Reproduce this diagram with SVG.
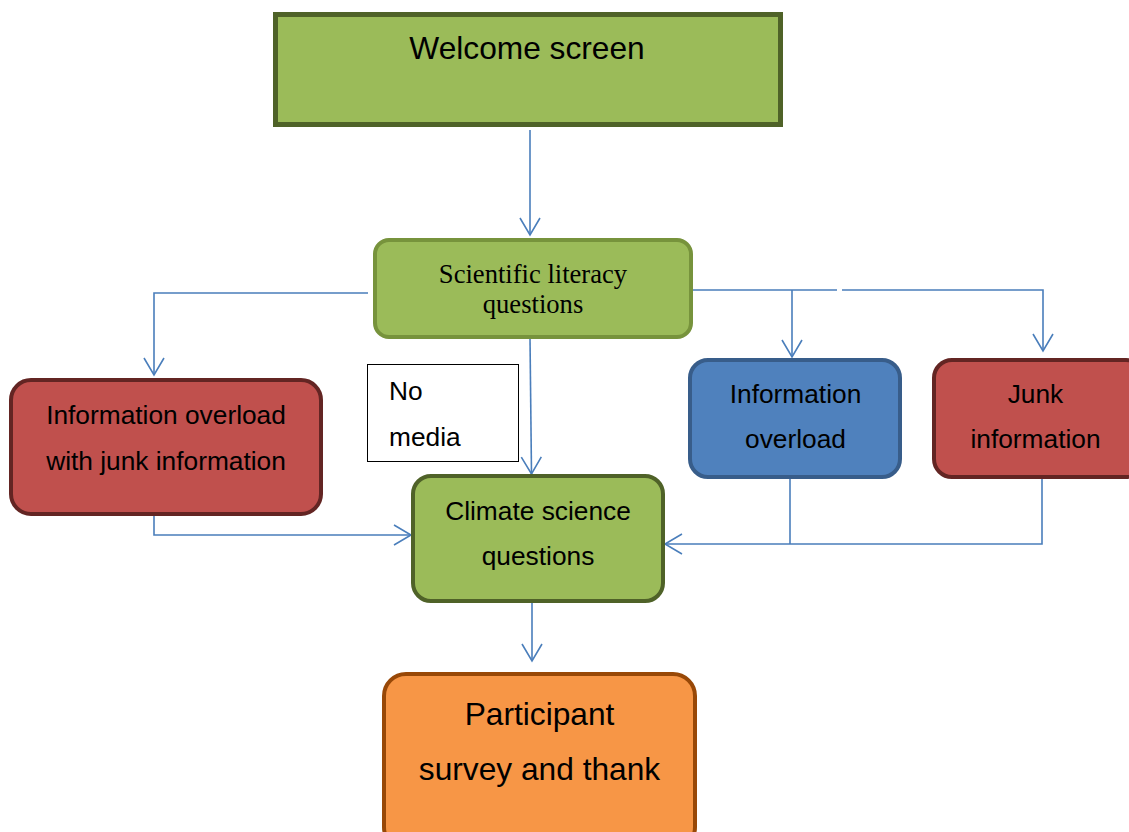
<svg xmlns="http://www.w3.org/2000/svg" width="1129" height="832" viewBox="0 0 1129 832">
  <style>
    .sans { font-family: "Liberation Sans", Arial, sans-serif; fill: #000; text-anchor: middle; font-size: 26.3px; }
    .big { font-size: 31.7px; }
    .left { text-anchor: start; }
    .serif { font-family: "Liberation Serif", "Times New Roman", serif; fill: #000; text-anchor: middle; font-size: 26.6px; }
    .green { fill: #9bbb59; stroke: #4f6228; stroke-width: 4; }
    .green-light { fill: #9bbb59; stroke: #77933c; stroke-width: 4; }
    .red { fill: #c0504d; stroke: #632523; stroke-width: 4; }
    .blue { fill: #4f81bd; stroke: #385d8a; stroke-width: 4; }
    .orange { fill: #f79646; stroke: #984807; stroke-width: 4; }
    .link { fill: none; stroke: #4a7ebb; stroke-width: 1.6; }
  </style>
  <defs>
    <marker id="open-arrow" markerUnits="userSpaceOnUse" markerWidth="24" markerHeight="24" viewBox="-20 -12 22 24" refX="0" refY="0" orient="auto">
      <path d="M-17,-10 L0,0 L-17,10" fill="none" stroke="#4a7ebb" stroke-width="1.6"/>
    </marker>
  </defs>
  <rect width="1129" height="832" fill="#ffffff"/>

  <!-- connectors -->
  <g id="connectors">
    <path class="link" d="M530,130 L530,235" marker-end="url(#open-arrow)"/>
    <path class="link" d="M368,293 L154,293 L154,375" marker-end="url(#open-arrow)"/>
    <path class="link" d="M692,290 L837,290 M842,290 L1043,290 L1043,351" marker-end="url(#open-arrow)"/>
    <path class="link" d="M792,290 L792,357" marker-end="url(#open-arrow)"/>
    <path class="link" d="M530,338 L531.5,474" marker-end="url(#open-arrow)"/>
    <path class="link" d="M154,516 L154,535 L411,535" marker-end="url(#open-arrow)"/>
    <path class="link" d="M790,478 L790,544"/>
    <path class="link" d="M1042,478 L1042,544 L665,544" marker-end="url(#open-arrow)"/>
    <path class="link" d="M532,603 L532,661" marker-end="url(#open-arrow)"/>
  </g>

  <!-- nodes -->
  <g id="welcome">
    <rect class="green" x="275.5" y="14.5" width="505" height="110" style="stroke-width:5"/>
    <text class="sans big" x="527" y="59">Welcome screen</text>
  </g>

  <g id="scientific-literacy">
    <rect class="green-light" x="375" y="240" width="316" height="97" rx="14"/>
    <text class="serif" x="533" y="283">Scientific literacy</text>
    <text class="serif" x="533" y="313">questions</text>
  </g>

  <g id="overload-junk">
    <rect class="red" x="11" y="380" width="310" height="134" rx="20"/>
    <text class="sans" x="166" y="424">Information overload</text>
    <text class="sans" x="166" y="470">with junk information</text>
  </g>

  <g id="no-media">
    <rect x="367.5" y="364.5" width="151" height="97" fill="#ffffff" stroke="#000000" stroke-width="1"/>
    <text class="sans left" x="389" y="400">No</text>
    <text class="sans left" x="389" y="446">media</text>
  </g>

  <g id="overload">
    <rect class="blue" x="690" y="360" width="210" height="117" rx="18"/>
    <text class="sans" x="795.5" y="403">Information</text>
    <text class="sans" x="795.5" y="448">overload</text>
  </g>

  <g id="junk">
    <rect class="red" x="934" y="360" width="210" height="117" rx="18"/>
    <text class="sans" x="1035.5" y="403">Junk</text>
    <text class="sans" x="1035.5" y="448">information</text>
  </g>

  <g id="climate-science">
    <rect class="green" x="413" y="476" width="250" height="125" rx="18"/>
    <text class="sans" x="538" y="520">Climate science</text>
    <text class="sans" x="538" y="565">questions</text>
  </g>

  <g id="participant-survey">
    <rect class="orange" x="384" y="674" width="311" height="175" rx="22"/>
    <text class="sans big" x="539.5" y="725">Participant</text>
    <text class="sans big" x="539.5" y="780">survey and thank</text>
  </g>
</svg>
